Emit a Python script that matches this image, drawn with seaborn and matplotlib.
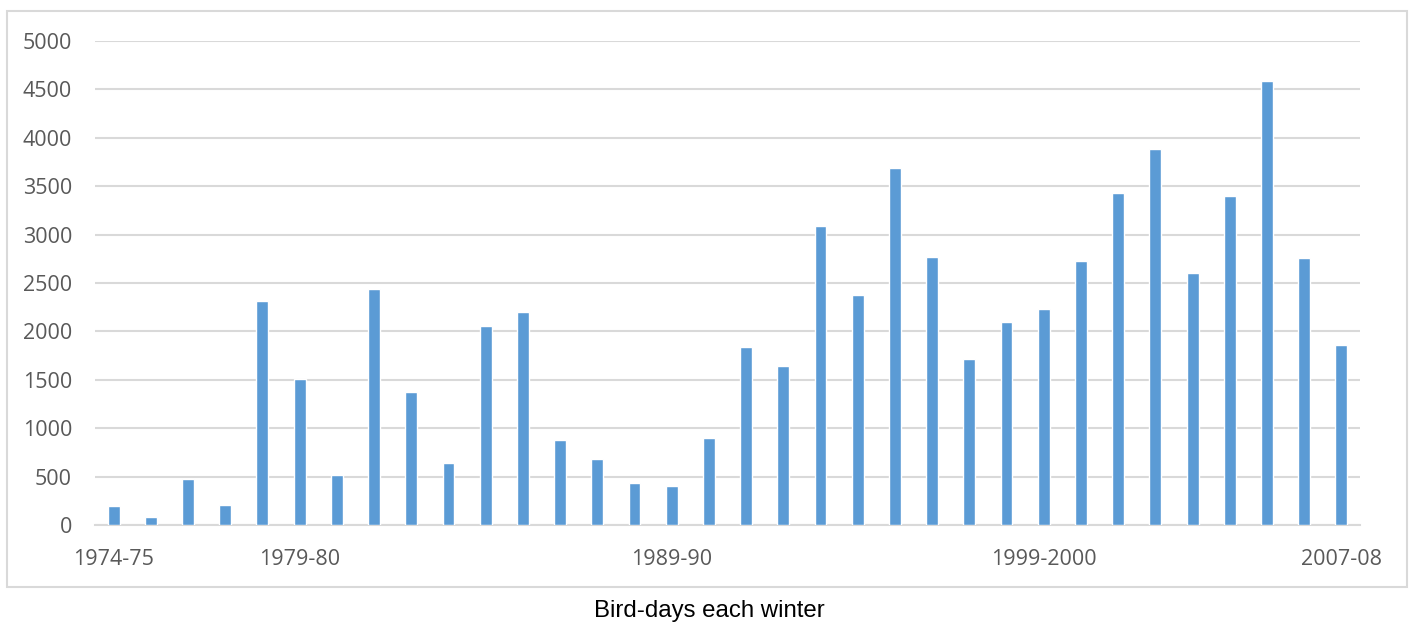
import matplotlib
matplotlib.use("Agg")
import matplotlib.pyplot as plt
import seaborn as sns
import pandas as pd
from matplotlib.patches import Rectangle

# Winters from 1974-75 to 2007-08
winters = [f"{y}-{str(y + 1)[-2:]}" if y != 1999 else "1999-2000" for y in range(1974, 2008)]
bird_days = [195, 82, 471, 203, 2312, 1512, 518, 2440, 1371, 642,
             2052, 2199, 880, 683, 435, 407, 897, 1835, 1639, 3090,
             2381, 3685, 2770, 1711, 2101, 2232, 2729, 3427, 3882, 2601,
             3395, 4589, 2754, 1863]
shown_labels = ["1974-75", "1979-80", "1989-90", "1999-2000", "2007-08"]
y_ticks = [0, 500, 1000, 1500, 2000, 2500, 3000, 3500, 4000, 4500, 5000]
title = "Bird-days each winter"

df = pd.DataFrame({"winter": winters, "days": bird_days})

sns.set_theme(style="white")
plt.rcParams["font.family"] = ["Open Sans", "DejaVu Sans"]

W, H = 1414, 623
fig = plt.figure(figsize=(W / 100, H / 100), dpi=100)
ax = fig.add_axes([95 / W, 1 - 525 / H, (1360 - 95) / W, (525 - 41) / H])

sns.barplot(data=df, x="winter", y="days", color="#5B9BD5", width=0.32,
            saturation=1, ax=ax, zorder=3)

ax.set_xlim(-0.5, len(winters) - 0.5)
ax.set_ylim(0, 5000)
ax.set_yticks(y_ticks)
ax.set_yticklabels([str(t) for t in y_ticks], fontsize=15.5, color="#595959")

pos = [winters.index(l) for l in shown_labels]
ax.set_xticks(pos)
ax.set_xticklabels(shown_labels, fontsize=15.5, color="#595959")
ax.tick_params(axis="both", length=0)
ax.tick_params(axis="x", pad=17.5)
ax.tick_params(axis="y", pad=16.5)

ax.set_xlabel("")
ax.set_ylabel("")
ax.grid(axis="y", color="#D9D9D9", linewidth=1.5, zorder=0)
for side in ["top", "right", "left"]:
    ax.spines[side].set_visible(False)
ax.spines["bottom"].set_color("#D9D9D9")
ax.spines["bottom"].set_linewidth(1.5)

# Chart area border
fig.patches.append(Rectangle((7 / W, 1 - 587 / H), (1407 - 7) / W, (587 - 11) / H,
                             transform=fig.transFigure, fill=False,
                             edgecolor="#D9D9D9", linewidth=1.5))

fig.text(709 / W, 1 - 611 / H, title, ha="center", va="center",
         fontsize=17.3, color="black", family=["Liberation Sans", "DejaVu Sans"])

fig.savefig("out.png", dpi=100, facecolor="white")
